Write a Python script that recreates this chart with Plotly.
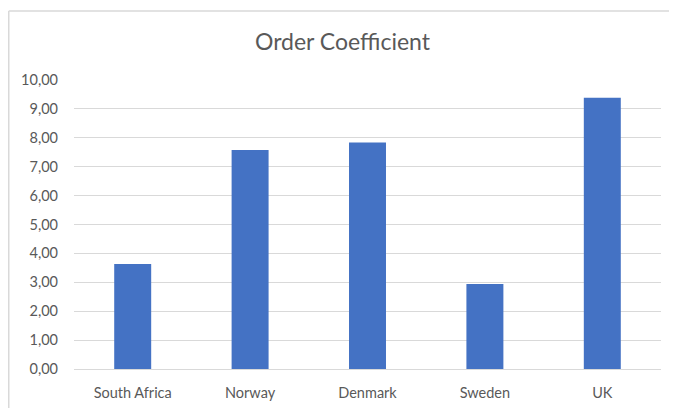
import plotly.graph_objects as go

categories = ["South Africa", "Norway", "Denmark", "Sweden", "UK"]
values = [3.63, 7.58, 7.84, 2.94, 9.39]
title_text = "Order Coefficient"

# page has an 8px body margin, so the figure is drawn 8px smaller
W, H = 669, 400
ml, mr, mt, mb = 66, 16, 72, 39

fig = go.Figure(go.Bar(x=categories, y=values, marker=dict(color="#4472C4", line=dict(width=0)),
                       hoverinfo="x+y"))

fig.update_layout(
    width=W, height=H,
    margin=dict(l=ml, r=mr, t=mt, b=mb, pad=0, autoexpand=False),
    paper_bgcolor="white", plot_bgcolor="white",
    separators=",.",
    bargap=0.685,
    font=dict(family="Lato, 'Open Sans', sans-serif", size=14.5, color="#595959"),
    title=dict(text=title_text, x=0.5, xanchor="center", y=1 - 34 / H, yanchor="middle",
               font=dict(size=23, color="#595959")),
    showlegend=False,
)
fig.update_yaxes(range=[0, 10], dtick=1, tickformat=".2f", showgrid=True, gridcolor="#d9d9d9",
                 gridwidth=1, zeroline=True, zerolinecolor="#d9d9d9", zerolinewidth=1, automargin=False,
                 showline=False, ticks="", ticklabelstandoff=15, tickfont=dict(size=14.5, color="#595959"))
fig.update_xaxes(showline=False, ticks="", ticklabelstandoff=13, automargin=False,
                 tickfont=dict(size=14.5, color="#595959"))

# chart area border (top and left edges visible)
pw, ph = W - ml - mr, H - mt - mb
bx = (0.75 - ml) / pw
by = (H - 3 - mb) / ph
border = dict(color="#d9d9d9", width=1.5)
fig.add_shape(type="line", xref="paper", yref="paper", x0=bx, x1=(W + 20 - ml) / pw, y0=by, y1=by,
              line=border, layer="below")
fig.add_shape(type="line", xref="paper", yref="paper", x0=bx, x1=bx, y0=by, y1=-(mb + 20) / ph,
              line=border, layer="below")

fig.write_html("out.html")
